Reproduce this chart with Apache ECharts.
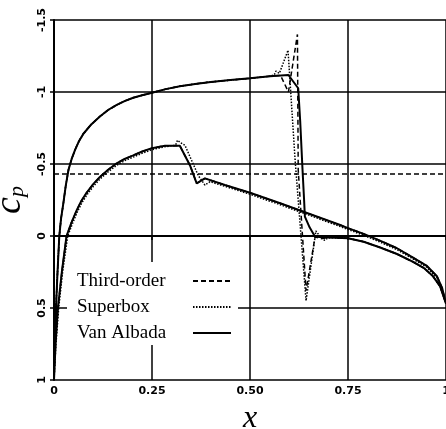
<!DOCTYPE html>
<html>
<head>
<meta charset="utf-8">
<script src="https://cdn.jsdelivr.net/npm/echarts@6/dist/echarts.min.js"></script>
<style>html,body{margin:0;padding:0;background:#fff}#c{width:446px;height:429px}</style>
</head>
<body>
<div id="c"></div>
<script>
// tick labels
var xTicks = [0, 0.25, 0.5, 0.75, 1];
var xTickLabels = ['0', '0.25', '0.50', '0.75', '1'];
var yTicks = [-1.5, -1, -0.5, 0, 0.5, 1];
var yTickLabels = ['-1.5', '-1', '-0.5', '0', '0.5', '1'];
var criticalCp = -0.43;
var seriesNames = ['Third-order', 'Superbox', 'Van Albada'];

// Van Albada (solid)
var vaUpper = [[0,1],[0.002,0.75],[0.005,0.5],[0.009,0.25],[0.0135,0],[0.018,-0.12],[0.024,-0.23],[0.03,-0.35],[0.037,-0.46],[0.045,-0.535],[0.054,-0.6],[0.064,-0.66],[0.075,-0.71],[0.095,-0.775],[0.117,-0.83],[0.138,-0.875],[0.16,-0.91],[0.18,-0.937],[0.202,-0.96],[0.225,-0.978],[0.25,-0.995],[0.285,-1.02],[0.321,-1.04],[0.36,-1.056],[0.4,-1.07],[0.45,-1.083],[0.5,-1.095],[0.551,-1.11],[0.598,-1.118],[0.623,-1.026],[0.628,-0.8],[0.634,-0.46],[0.638,-0.25],[0.640,-0.134],[0.652,-0.06],[0.666,0.005],[0.704,0.01],[0.75,0.015],[0.79,0.04],[0.832,0.08],[0.875,0.125],[0.916,0.18],[0.945,0.225],[0.967,0.28],[0.985,0.35],[1,0.47]];
var vaLower = [[0,1],[0.004,0.75],[0.01,0.5],[0.02,0.25],[0.032,0],[0.044,-0.09],[0.058,-0.18],[0.07,-0.245],[0.083,-0.30],[0.1,-0.36],[0.117,-0.41],[0.138,-0.46],[0.16,-0.505],[0.18,-0.535],[0.202,-0.56],[0.225,-0.587],[0.25,-0.61],[0.283,-0.627],[0.321,-0.627],[0.347,-0.49],[0.364,-0.366],[0.385,-0.40],[0.436,-0.354],[0.5,-0.30],[0.577,-0.227],[0.64,-0.165],[0.73,-0.076],[0.75,-0.055],[0.79,-0.015],[0.83,0.03],[0.875,0.085],[0.916,0.15],[0.95,0.205],[0.977,0.28],[0.99,0.36],[1,0.47]];

// Superbox (dotted)
var sbUpper = [[0,1],[0.002,0.75],[0.005,0.5],[0.009,0.25],[0.0135,0],[0.018,-0.12],[0.024,-0.23],[0.03,-0.35],[0.037,-0.46],[0.045,-0.535],[0.054,-0.6],[0.064,-0.66],[0.075,-0.71],[0.095,-0.775],[0.117,-0.83],[0.138,-0.875],[0.16,-0.91],[0.18,-0.937],[0.202,-0.96],[0.225,-0.978],[0.25,-0.995],[0.285,-1.02],[0.321,-1.04],[0.36,-1.056],[0.4,-1.07],[0.45,-1.083],[0.5,-1.095],[0.551,-1.11],[0.562,-1.12],[0.566,-1.145],[0.571,-1.15],[0.575,-1.13],[0.597,-1.29],[0.615,-0.53],[0.643,0.45],[0.666,0.005],[0.668,-0.035],[0.675,-0.01],[0.69,0.03],[0.70,0.012],[0.75,0.015],[0.79,0.04],[0.832,0.08],[0.875,0.125],[0.916,0.18],[0.945,0.225],[0.967,0.28],[0.985,0.35],[1,0.47]];
var sbLower = [[0,1],[0.005,0.75],[0.012,0.5],[0.022,0.25],[0.035,0],[0.047,-0.085],[0.06,-0.17],[0.072,-0.235],[0.085,-0.29],[0.102,-0.35],[0.119,-0.40],[0.14,-0.45],[0.162,-0.495],[0.182,-0.525],[0.204,-0.55],[0.227,-0.577],[0.25,-0.6],[0.283,-0.62],[0.31,-0.63],[0.315,-0.665],[0.322,-0.65],[0.334,-0.63],[0.368,-0.42],[0.385,-0.354],[0.398,-0.377],[0.436,-0.345],[0.5,-0.29],[0.577,-0.217],[0.64,-0.155],[0.73,-0.066],[0.75,-0.045],[0.79,-0.005],[0.83,0.04],[0.875,0.095],[0.916,0.16],[0.95,0.215],[0.977,0.29],[0.99,0.37],[1,0.47]];

// Third-order (dashed)
var toUpper = [[0,1],[0.002,0.75],[0.005,0.5],[0.009,0.25],[0.0135,0],[0.018,-0.12],[0.024,-0.23],[0.03,-0.35],[0.037,-0.46],[0.045,-0.535],[0.054,-0.6],[0.064,-0.66],[0.075,-0.71],[0.095,-0.775],[0.117,-0.83],[0.138,-0.875],[0.16,-0.91],[0.18,-0.937],[0.202,-0.96],[0.225,-0.978],[0.25,-0.995],[0.285,-1.02],[0.321,-1.04],[0.36,-1.056],[0.4,-1.07],[0.45,-1.083],[0.5,-1.095],[0.551,-1.11],[0.578,-1.115],[0.598,-1.0],[0.621,-1.40],[0.623,-0.46],[0.643,0.38],[0.666,0.005],[0.68,0.02],[0.704,0.01],[0.75,0.015],[0.79,0.04],[0.832,0.08],[0.875,0.125],[0.916,0.18],[0.945,0.225],[0.967,0.28],[0.985,0.35],[1,0.47]];
var toLower = vaLower;

function loop(up, low) { return up.concat(low.slice().reverse()); }

var chart = echarts.init(document.getElementById('c'), null, {renderer: 'canvas'});
var tickFont = {fontFamily: 'DejaVu Sans', fontWeight: 'bold', fontSize: 11, color: '#000'};
chart.setOption({
  animation: false,
  backgroundColor: '#fff',
  grid: {left: 54, right: 0, top: 20, bottom: 49, containLabel: false, outerBoundsMode: 'none'},
  xAxis: {
    type: 'value', min: 0, max: 1, interval: 0.25,
    name: 'x', nameLocation: 'middle', nameGap: 23,
    nameTextStyle: {fontFamily: 'Liberation Serif', fontStyle: 'italic', fontSize: 32, color: '#000'},
    axisLine: {show: true, lineStyle: {color: '#000', width: 2}},
    axisTick: {show: true, length: 4, lineStyle: {color: '#000', width: 1.5}},
    axisLabel: Object.assign({margin: 6, formatter: function (v) { var i = xTicks.indexOf(+v.toFixed(2)); return i >= 0 ? xTickLabels[i] : ''; }}, tickFont),
    splitLine: {show: true, lineStyle: {color: '#000', width: 1.5}}
  },
  yAxis: {
    type: 'value', min: -1.5, max: 1, interval: 0.5, inverse: true,
    name: '{c|c}{p|p}', nameLocation: 'middle', nameGap: 22, nameRotate: 90,
    nameTextStyle: {
      rich: {
        c: {fontFamily: 'Liberation Serif', fontStyle: 'italic', fontSize: 38, color: '#000'},
        p: {fontFamily: 'Liberation Serif', fontStyle: 'italic', fontSize: 22, color: '#000', padding: [14, 0, 0, 0]}
      }
    },
    axisLine: {show: true, onZero: false, lineStyle: {color: '#000', width: 2}},
    axisTick: {show: true, length: 4, lineStyle: {color: '#000', width: 1.5}},
    axisLabel: Object.assign({margin: 6, rotate: 90, formatter: function (v) { var i = yTicks.indexOf(+v.toFixed(2)); return i >= 0 ? yTickLabels[i] : ''; }}, tickFont),
    splitLine: {show: true, lineStyle: {color: '#000', width: 1.5}}
  },
  legend: {
    data: seriesNames,
    orient: 'vertical', left: 67, top: 262,
    align: 'right',
    backgroundColor: '#fff',
    padding: [9, 6, 2, 10],
    itemWidth: 38, itemHeight: 20, itemGap: 6,
    selectedMode: false,
    itemStyle: {opacity: 0},
    formatter: function (n) { return '{t|' + n + '}'; },
    textStyle: {
      fontFamily: 'Liberation Serif', fontSize: 19, color: '#000', lineHeight: 20,
      rich: {t: {fontFamily: 'Liberation Serif', fontSize: 19, color: '#000', width: 111, align: 'left', lineHeight: 20}}
    }
  },
  series: [
    {
      name: seriesNames[0], type: 'line', symbol: 'none', data: loop(toUpper, toLower),
      lineStyle: {color: '#000', width: 1.5, type: [5, 3]}, z: 3,
      markLine: {
        silent: true, symbol: ['none', 'none'], label: {show: false},
        lineStyle: {color: '#000', width: 1.5, type: [5, 3]},
        data: [{yAxis: criticalCp}]
      }
    },
    {
      name: seriesNames[1], type: 'line', symbol: 'none', data: loop(sbUpper, sbLower),
      lineStyle: {color: '#000', width: 1.5, type: [1.5, 1.5]}, z: 4
    },
    {
      name: seriesNames[2], type: 'line', symbol: 'none', data: loop(vaUpper, vaLower),
      lineStyle: {color: '#000', width: 2}, z: 5
    }
  ]
});
</script>
</body>
</html>
